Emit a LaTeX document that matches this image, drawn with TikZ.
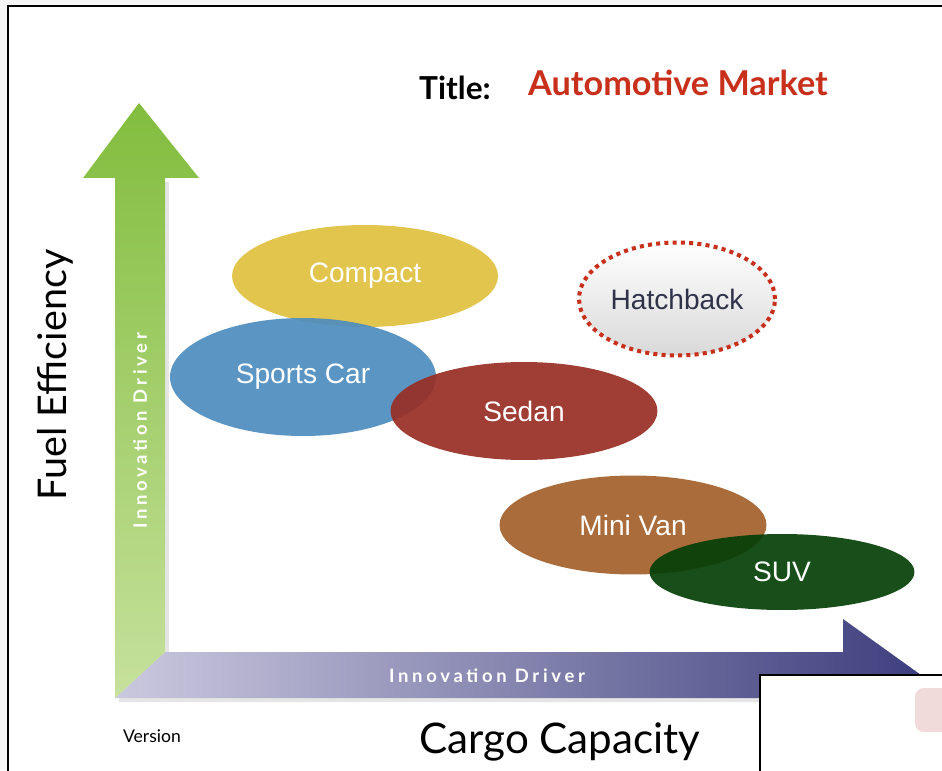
\documentclass[tikz,border=0pt]{standalone}
\usepackage{fontspec}
\usepackage{xcolor}
\usepackage{tikz}
\usetikzlibrary{shapes.geometric}
\newfontfamily\gillfont{Lato}
\newfontfamily\helvfont{Liberation Sans}
\newfontfamily\drvfont{Lato}[LetterSpace=20]
\definecolor{compactc}{HTML}{E0C13E}
\definecolor{sportsc}{HTML}{4E8DBF}
\definecolor{sedanc}{HTML}{982E25}
\definecolor{vanc}{HTML}{A4602C}
\definecolor{suvc}{HTML}{053F07}
\definecolor{titlered}{HTML}{C8301C}
\definecolor{hatchtext}{HTML}{30324A}
\definecolor{greentop}{HTML}{82BD3E}
\definecolor{greenlow}{HTML}{C6E19C}
\definecolor{purpleleft}{HTML}{CBC9DF}
\definecolor{purplemid}{HTML}{76699E}
\definecolor{purpleright}{HTML}{3E3F7E}
\definecolor{pinkbox}{HTML}{F0DADA}

\begin{document}
\begin{tikzpicture}[x=0.02cm, y=-0.02cm,
    car/.style={ellipse, inner sep=0pt, fill opacity=.92, text opacity=1,
        text=white, font=\helvfont\fontsize{16}{18}\selectfont},
    driver/.style={text=white, font=\drvfont\bfseries\fontsize{10.5}{12}\selectfont}]
    \useasboundingbox (0,0) rectangle (942,770);
    \clip (0,0) rectangle (942,770);
    \fill[gray!7] (0,0) rectangle (942,770);
    \draw[line width=1.7pt, fill=white] (8,6) rectangle (980,800);

    % soft shadow under the two axes
    \fill[black, opacity=.1, xshift=0.08cm, yshift=-0.08cm]
        (115,698) -- (115,178) -- (165,178) -- (165,652) -- (843,652)
        -- (843,698) -- cycle;
    % cargo axis
    \shade[left color=purpleleft, middle color=purplemid, right color=purpleright]
        (115,698) -- (165,652) -- (843,652) -- (843,619) -- (921,675)
        -- (843,731) -- (843,698) -- cycle;
    % efficiency axis
    \shade[top color=greentop, middle color=greentop, bottom color=greenlow]
        (115,698) -- (115,178) -- (83,178) -- (139,103) -- (199,178)
        -- (165,178) -- (165,652) -- cycle;
    \node[driver, rotate=90] (drvy) at (140,431) {Innovation Driver};
    \node[driver] (drvx) at (487,676) {Innovation Driver};

    \node[font=\gillfont\fontsize{22.5}{26}\selectfont, rotate=90] (effy)
        at (55,375) {Fuel Efficiency};
    \node[font=\gillfont\fontsize{24}{28}\selectfont] (cargo) at (560,742) {Cargo Capacity};
    \node[font=\gillfont\fontsize{10}{12}\selectfont] (ver) at (152,736) {Version};
    \node[font=\gillfont\bfseries\fontsize{18}{20}\selectfont] (ttl) at (455,88) {Title:};
    \node[font=\gillfont\bfseries\fontsize{19.5}{22}\selectfont, text=titlered] (mkt)
        at (678,83) {Automotive Market};

    % market segments
    \node[car, fill=compactc, minimum width=5.32cm, minimum height=2.04cm] (compact)
        at (365,276) {Compact};
    \node[car, fill=sportsc, minimum width=5.32cm, minimum height=2.36cm] (sports)
        at (303,377) {Sports Car};
    \node[car, fill=sedanc, minimum width=5.34cm, minimum height=1.96cm] (sedan)
        at (524,411) {Sedan};
    \node[ellipse, inner sep=0pt, minimum width=3.92cm, minimum height=2.26cm,
        top color=white, bottom color=gray!30, draw=titlered, line width=2.3pt,
        dash pattern=on 2.3pt off 2.4pt, text=hatchtext,
        font=\helvfont\fontsize{16}{18}\selectfont] (hatch) at (677,299) {Hatchback};
    \node[car, fill=vanc, minimum width=5.34cm, minimum height=1.98cm] (van)
        at (633,525) {Mini Van};
    \node[car, fill=suvc, minimum width=5.3cm, minimum height=1.52cm] (suv)
        at (782,572) {SUV};

    \draw[line width=1.2pt, fill=white] (760,675) rectangle (980,800);
    \fill[pinkbox, rounded corners=5pt] (915,688) rectangle (980,732);
\end{tikzpicture}
\end{document}
